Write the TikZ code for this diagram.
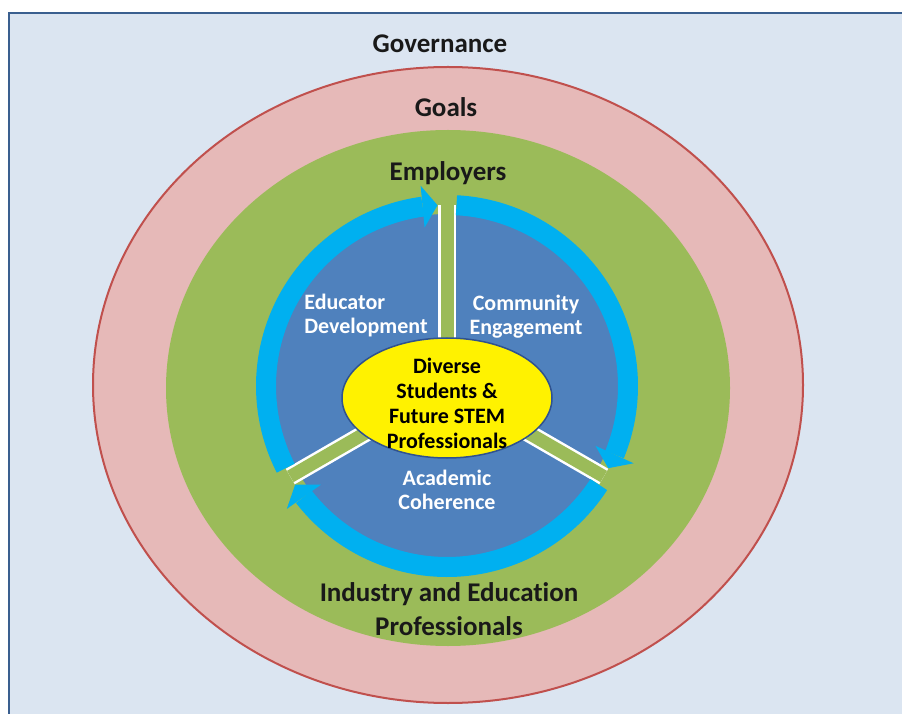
\documentclass[tikz,border=0pt]{standalone}
\usepackage{fontspec}
\setmainfont{Carlito}[Ligatures=NoCommon]
\usetikzlibrary{arrows.meta,bending}

\definecolor{govbg}{HTML}{DBE5F1}
\definecolor{govframe}{HTML}{3A5F8F}
\definecolor{goalfill}{HTML}{E6B9B8}
\definecolor{goalline}{HTML}{C0504D}
\definecolor{employgreen}{HTML}{9BBB59}
\definecolor{sectorblue}{HTML}{4F81BD}
\definecolor{cyclecyan}{HTML}{00B0F0}
\definecolor{coreline}{HTML}{2F528F}

\tikzset{
	ringlabel/.style={font=\fontsize{27}{34}\selectfont\bfseries, text=black!90, align=center, inner sep=0pt},
	sectorlabel/.style={font=\fontsize{22}{24}\selectfont\bfseries, text=white, inner sep=0pt},
	cyclearrow/.style={cyclecyan, line width=20pt, -{Triangle[length=15pt,width=42pt,line width=0pt]}},
}

\begin{document}
\begin{tikzpicture}[x=1pt, y=1pt]
			\useasboundingbox (0,0) rectangle (902,713);
			\clip (0,0) rectangle (902,713);
			\fill[white] (0,0) rectangle (902,713);
			\draw[govframe, line width=2pt, fill=govbg] (9,700) rectangle (940,-30);

			\draw[goalline, line width=2pt, fill=goalfill] (448,328) ellipse [x radius=355, y radius=318];
			\fill[employgreen] (448,325) ellipse [x radius=282, y radius=258];

			\coordinate (ring) at (447,327);
			\fill[sectorblue] (ring) circle [radius=172];

			\foreach \a in {90,-30,210} {
				\draw[white, line width=18pt] (ring) -- ++(\a:181);
				\draw[employgreen, line width=13pt] (ring) -- ++(\a:181);
			}

			\draw[cyclearrow] ([shift={(207:181)}]ring) arc [start angle=207, end angle=93, radius=181];
			\draw[cyclearrow] ([shift={(87:181)}]ring) arc [start angle=87, end angle=-27, radius=181];
			\draw[cyclearrow] ([shift={(-33:181)}]ring) arc [start angle=-33, end angle=-147, radius=181];

			\draw[coreline, line width=1.5pt, fill=yellow] (447,315) ellipse [x radius=105, y radius=60];

			\node[ringlabel] (governance) at (440,669) {Governance};
			\node[ringlabel] (goals) at (446,606) {Goals};
			\node[ringlabel] (employers) at (448,540) {Employers};
			\node[ringlabel] (industry) at (449,104) {Industry and Education\\Professionals};

			\node[sectorlabel, align=left] (educator) at (366,397) {Educator\\Development};
			\node[sectorlabel, align=center] (community) at (526,396) {Community\\Engagement};
			\node[sectorlabel, align=center] (academic) at (447,223) {Academic\\Coherence};

			\node[font=\fontsize{22}{25}\selectfont\bfseries, align=center, inner sep=0pt] (core) at (447,310) {Diverse\\Students \&\\Future STEM\\Professionals};
		\end{tikzpicture}
\end{document}
